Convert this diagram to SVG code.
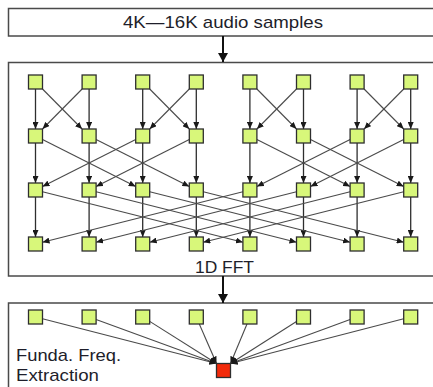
<svg xmlns="http://www.w3.org/2000/svg" width="433" height="387" viewBox="0 0 433 387">
  <style>
    .box { fill: #ffffff; stroke: #4a4a4a; stroke-width: 1.5; }
    .node { fill: #d8f77a; stroke: #2e2e2e; stroke-width: 1.3; }
    .out { fill: #f22a0a; stroke: #2e2e2e; stroke-width: 1.3; }
    .lbl { font-family: "Liberation Sans", Arial, Helvetica, sans-serif; font-size: 17px; fill: #1e1e2a; }
    .v { stroke: #2e2e2e; stroke-width: 1.3; marker-end: url(#tip); }
    .d { stroke: #4a4a4a; stroke-width: 1.1; marker-end: url(#tip); }
    .flow { stroke: #111111; stroke-width: 2; marker-end: url(#bigtip); }
  </style>
  <defs>
    <marker id="tip" markerUnits="userSpaceOnUse" markerWidth="7" markerHeight="6" refX="7" refY="3" orient="auto">
      <path d="M0,0 L7,3 L0,6 z" fill="#1a1a1a"/>
    </marker>
    <marker id="bigtip" markerUnits="userSpaceOnUse" markerWidth="9" markerHeight="10" refX="9" refY="5" orient="auto">
      <path d="M0,0 L9,5 L0,10 z" fill="#111111"/>
    </marker>
  </defs>

  <!-- input stage -->
  <g id="input">
    <rect class="box" x="8.5" y="8.5" width="440" height="27.5"/>
    <text class="lbl" x="223" y="28" text-anchor="middle" textLength="200" lengthAdjust="spacingAndGlyphs">4K—16K audio samples</text>
  </g>

  <!-- FFT stage frame -->
  <g id="fft">
    <rect class="box" x="8.5" y="62.5" width="440" height="213.5"/>
    <text class="lbl" x="224.5" y="273" text-anchor="middle" textLength="59" lengthAdjust="spacingAndGlyphs">1D FFT</text>
  </g>

  <!-- pitch stage frame -->
  <g id="pitch">
    <rect class="box" x="8.5" y="303" width="440" height="100"/>
    <text class="lbl" x="16" y="361" textLength="105" lengthAdjust="spacingAndGlyphs">Funda. Freq.</text>
    <text class="lbl" x="16" y="381" textLength="83" lengthAdjust="spacingAndGlyphs">Extraction</text>
  </g>

  <g id="connectors">
    <!-- between stages -->
    <line class="flow" x1="223" y1="36" x2="223" y2="62"/>
    <line class="flow" x1="223" y1="276" x2="223" y2="303"/>

    <!-- butterfly stage 1 -->
    <line class="v" x1="35.5" y1="89" x2="35.5" y2="129"/>
    <line class="v" x1="89.1" y1="89" x2="89.1" y2="129"/>
    <line class="v" x1="142.7" y1="89" x2="142.7" y2="129"/>
    <line class="v" x1="196.3" y1="89" x2="196.3" y2="129"/>
    <line class="v" x1="249.9" y1="89" x2="249.9" y2="129"/>
    <line class="v" x1="303.5" y1="89" x2="303.5" y2="129"/>
    <line class="v" x1="357.1" y1="89" x2="357.1" y2="129"/>
    <line class="v" x1="410.7" y1="89" x2="410.7" y2="129"/>
    <line class="d" x1="42.5" y1="89" x2="82.1" y2="129"/>
    <line class="d" x1="82.1" y1="89" x2="42.5" y2="129"/>
    <line class="d" x1="149.7" y1="89" x2="189.3" y2="129"/>
    <line class="d" x1="189.3" y1="89" x2="149.7" y2="129"/>
    <line class="d" x1="256.9" y1="89" x2="296.5" y2="129"/>
    <line class="d" x1="296.5" y1="89" x2="256.9" y2="129"/>
    <line class="d" x1="364.1" y1="89" x2="403.7" y2="129"/>
    <line class="d" x1="403.7" y1="89" x2="364.1" y2="129"/>

    <!-- butterfly stage 2 -->
    <line class="v" x1="35.5" y1="143" x2="35.5" y2="183"/>
    <line class="v" x1="89.1" y1="143" x2="89.1" y2="183"/>
    <line class="v" x1="142.7" y1="143" x2="142.7" y2="183"/>
    <line class="v" x1="196.3" y1="143" x2="196.3" y2="183"/>
    <line class="v" x1="249.9" y1="143" x2="249.9" y2="183"/>
    <line class="v" x1="303.5" y1="143" x2="303.5" y2="183"/>
    <line class="v" x1="357.1" y1="143" x2="357.1" y2="183"/>
    <line class="v" x1="410.7" y1="143" x2="410.7" y2="183"/>
    <line class="d" x1="42.5" y1="139.5" x2="135.7" y2="186.5"/>
    <line class="d" x1="96.1" y1="139.5" x2="189.3" y2="186.5"/>
    <line class="d" x1="135.7" y1="139.5" x2="42.5" y2="186.5"/>
    <line class="d" x1="189.3" y1="139.5" x2="96.1" y2="186.5"/>
    <line class="d" x1="256.9" y1="139.5" x2="350.1" y2="186.5"/>
    <line class="d" x1="310.5" y1="139.5" x2="403.7" y2="186.5"/>
    <line class="d" x1="350.1" y1="139.5" x2="256.9" y2="186.5"/>
    <line class="d" x1="403.7" y1="139.5" x2="310.5" y2="186.5"/>

    <!-- butterfly stage 3 -->
    <line class="v" x1="35.5" y1="197" x2="35.5" y2="237"/>
    <line class="v" x1="89.1" y1="197" x2="89.1" y2="237"/>
    <line class="v" x1="142.7" y1="197" x2="142.7" y2="237"/>
    <line class="v" x1="196.3" y1="197" x2="196.3" y2="237"/>
    <line class="v" x1="249.9" y1="197" x2="249.9" y2="237"/>
    <line class="v" x1="303.5" y1="197" x2="303.5" y2="237"/>
    <line class="v" x1="357.1" y1="197" x2="357.1" y2="237"/>
    <line class="v" x1="410.7" y1="197" x2="410.7" y2="237"/>
    <line class="d" x1="42.5" y1="191.8" x2="242.9" y2="242.2"/>
    <line class="d" x1="96.1" y1="191.8" x2="296.5" y2="242.2"/>
    <line class="d" x1="149.7" y1="191.8" x2="350.1" y2="242.2"/>
    <line class="d" x1="203.3" y1="191.8" x2="403.7" y2="242.2"/>
    <line class="d" x1="242.9" y1="191.8" x2="42.5" y2="242.2"/>
    <line class="d" x1="296.5" y1="191.8" x2="96.1" y2="242.2"/>
    <line class="d" x1="350.1" y1="191.8" x2="149.7" y2="242.2"/>
    <line class="d" x1="403.7" y1="191.8" x2="203.3" y2="242.2"/>

    <!-- spectrum bins to peak picker -->
    <line class="d" x1="42.5" y1="318.8" x2="216.5" y2="363.5"/>
    <line class="d" x1="96.1" y1="319.6" x2="216.5" y2="363.5"/>
    <line class="d" x1="149.7" y1="321.4" x2="216.5" y2="363.5"/>
    <line class="d" x1="199.3" y1="324" x2="216.5" y2="363.5"/>
    <line class="d" x1="247" y1="324" x2="230.5" y2="363.5"/>
    <line class="d" x1="296.5" y1="321.5" x2="230.5" y2="363.5"/>
    <line class="d" x1="350.1" y1="319.6" x2="230.5" y2="363.5"/>
    <line class="d" x1="403.7" y1="318.8" x2="230.5" y2="363.5"/>
  </g>

  <!-- FFT nodes, rows 0..3 -->
  <g id="r0">
    <rect id="n0-0" class="node" x="28.5" y="75" width="14" height="14"/>
    <rect id="n0-1" class="node" x="82.1" y="75" width="14" height="14"/>
    <rect id="n0-2" class="node" x="135.7" y="75" width="14" height="14"/>
    <rect id="n0-3" class="node" x="189.3" y="75" width="14" height="14"/>
    <rect id="n0-4" class="node" x="242.9" y="75" width="14" height="14"/>
    <rect id="n0-5" class="node" x="296.5" y="75" width="14" height="14"/>
    <rect id="n0-6" class="node" x="350.1" y="75" width="14" height="14"/>
    <rect id="n0-7" class="node" x="403.7" y="75" width="14" height="14"/>
  </g>
  <g id="r1">
    <rect id="n1-0" class="node" x="28.5" y="129" width="14" height="14"/>
    <rect id="n1-1" class="node" x="82.1" y="129" width="14" height="14"/>
    <rect id="n1-2" class="node" x="135.7" y="129" width="14" height="14"/>
    <rect id="n1-3" class="node" x="189.3" y="129" width="14" height="14"/>
    <rect id="n1-4" class="node" x="242.9" y="129" width="14" height="14"/>
    <rect id="n1-5" class="node" x="296.5" y="129" width="14" height="14"/>
    <rect id="n1-6" class="node" x="350.1" y="129" width="14" height="14"/>
    <rect id="n1-7" class="node" x="403.7" y="129" width="14" height="14"/>
  </g>
  <g id="r2">
    <rect id="n2-0" class="node" x="28.5" y="183" width="14" height="14"/>
    <rect id="n2-1" class="node" x="82.1" y="183" width="14" height="14"/>
    <rect id="n2-2" class="node" x="135.7" y="183" width="14" height="14"/>
    <rect id="n2-3" class="node" x="189.3" y="183" width="14" height="14"/>
    <rect id="n2-4" class="node" x="242.9" y="183" width="14" height="14"/>
    <rect id="n2-5" class="node" x="296.5" y="183" width="14" height="14"/>
    <rect id="n2-6" class="node" x="350.1" y="183" width="14" height="14"/>
    <rect id="n2-7" class="node" x="403.7" y="183" width="14" height="14"/>
  </g>
  <g id="r3">
    <rect id="n3-0" class="node" x="28.5" y="237" width="14" height="14"/>
    <rect id="n3-1" class="node" x="82.1" y="237" width="14" height="14"/>
    <rect id="n3-2" class="node" x="135.7" y="237" width="14" height="14"/>
    <rect id="n3-3" class="node" x="189.3" y="237" width="14" height="14"/>
    <rect id="n3-4" class="node" x="242.9" y="237" width="14" height="14"/>
    <rect id="n3-5" class="node" x="296.5" y="237" width="14" height="14"/>
    <rect id="n3-6" class="node" x="350.1" y="237" width="14" height="14"/>
    <rect id="n3-7" class="node" x="403.7" y="237" width="14" height="14"/>
  </g>

  <!-- spectrum bins -->
  <g id="bins">
    <rect id="b0" class="node" x="28.5" y="310" width="14" height="14"/>
    <rect id="b1" class="node" x="82.1" y="310" width="14" height="14"/>
    <rect id="b2" class="node" x="135.7" y="310" width="14" height="14"/>
    <rect id="b3" class="node" x="189.3" y="310" width="14" height="14"/>
    <rect id="b4" class="node" x="242.9" y="310" width="14" height="14"/>
    <rect id="b5" class="node" x="296.5" y="310" width="14" height="14"/>
    <rect id="b6" class="node" x="350.1" y="310" width="14" height="14"/>
    <rect id="b7" class="node" x="403.7" y="310" width="14" height="14"/>
  </g>

  <!-- fundamental frequency output -->
  <g id="f0">
    <rect class="out" x="216.5" y="363.5" width="14" height="14"/>
  </g>
</svg>
